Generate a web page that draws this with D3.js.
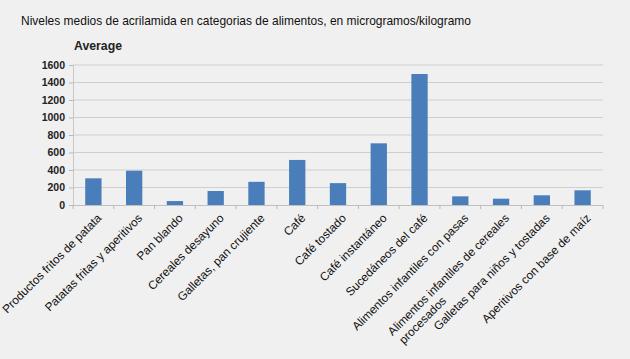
<!DOCTYPE html>
<html><head><meta charset="utf-8">
<script src="https://cdn.jsdelivr.net/npm/d3@7"></script>
<style>
html,body{margin:0;padding:0;background:#f0f0f0;}
svg{display:block;font-family:"Liberation Sans",Arial,sans-serif;}
</style></head>
<body>
<svg id="c" width="630" height="359"></svg>
<script>
const categories = [
  "Productos fritos de patata",
  "Patatas fritas y aperitivos",
  "Pan blando",
  "Cereales desayuno",
  "Galletas, pan crujiente",
  "Café",
  "Café tostado",
  "Café instantáneo",
  "Sucedáneos del café",
  "Alimentos infantiles con pasas",
  "Alimentos infantiles de cereales|procesados",
  "Galletas para niños y tostadas",
  "Aperitivos con base de maíz"
];
const values = [305, 392, 45, 160, 265, 515, 250, 705, 1497, 99, 72, 111, 168];
const yTicks = [0, 200, 400, 600, 800, 1000, 1200, 1400, 1600];
const title = "Niveles medios de acrilamida en categorias de alimentos, en microgramos/kilogramo";
const seriesName = "Average";

const svg = d3.select("#c");
const m = {left:73, right:603, top:65, bottom:205};

svg.append("rect").attr("width",630).attr("height",359).attr("fill","#f0f0f0");

const x = d3.scaleBand().domain(categories).range([m.left, m.right]).paddingInner(0.6).paddingOuter(0.3);
const xb = d3.scaleBand().domain(categories).range([m.left, m.right]);
const y = d3.scaleLinear().domain([0,1600]).range([m.bottom, m.top]);

// title
svg.append("text").attr("x",21).attr("y",25).attr("font-size",13.5).attr("fill","#111")
  .attr("textLength",450).attr("lengthAdjust","spacingAndGlyphs").text(title);
svg.append("text").attr("x",74).attr("y",50).attr("font-size",12).attr("font-weight","bold").attr("fill","#222")
  .attr("textLength",48).attr("lengthAdjust","spacingAndGlyphs").text(seriesName);

// gridlines
svg.append("g").selectAll("line").data(yTicks.filter(d=>d>0)).join("line")
  .attr("x1",m.left).attr("x2",m.right).attr("y1",d=>y(d)).attr("y2",d=>y(d))
  .attr("stroke","#cfcfcf").attr("stroke-width",1);

// y axis
const ya = svg.append("g").attr("transform",`translate(${m.left},0)`)
  .call(d3.axisLeft(y).tickValues(yTicks).tickFormat(d3.format("d")).tickSize(4).tickPadding(4));
ya.select(".domain").attr("stroke","#c8c8c8");
ya.selectAll(".tick line").attr("stroke","#b8b8b8");
ya.selectAll(".tick text").attr("font-size",10.5).attr("font-weight","bold").attr("fill","#222")
  .attr("font-family","'Liberation Sans',Arial,sans-serif");

// bars
svg.append("g").selectAll("rect").data(values).join("rect")
  .attr("x",(d,i)=>x(categories[i])).attr("width",x.bandwidth())
  .attr("y",d=>y(d)).attr("height",d=>y(0)-y(d))
  .attr("fill","#4a7ebb");

// x axis
const xg = svg.append("g");
xg.append("line").attr("x1",m.left).attr("x2",m.right).attr("y1",y(0)+0.5).attr("y2",y(0)+0.5).attr("stroke","#c0c0c0");
const bounds = categories.map(c=>xb(c)).concat([m.right]);
xg.selectAll("line.t").data(bounds).join("line").attr("class","t")
  .attr("x1",d=>d).attr("x2",d=>d).attr("y1",y(0)).attr("y2",y(0)+4).attr("stroke","#b8b8b8");

// labels
categories.forEach((c,i)=>{
  const cx = xb(c)+xb.bandwidth()/2 + 3;
  const lines = c.split("|");
  const g = svg.append("g").attr("transform",`translate(${cx},${y(0)+8}) rotate(-45)`);
  const t1 = g.append("text").attr("text-anchor","end").attr("dy","0.7em").attr("font-size",11.8).attr("fill","#111").text(lines[0]);
  if(lines.length>1){
    const w = t1.node().getComputedTextLength();
    g.append("text").attr("x",-w+2).attr("y",14).attr("dy","0.7em").attr("font-size",11.8).attr("fill","#111").text(lines[1]);
  }
});
</script>
</body></html>
